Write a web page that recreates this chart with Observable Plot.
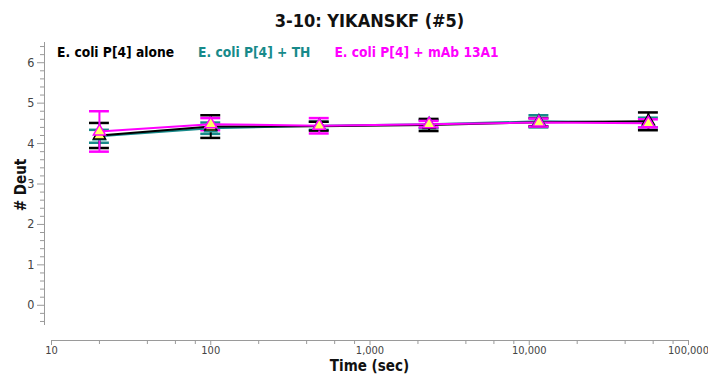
<!DOCTYPE html>
<html>
<head>
<meta charset="utf-8">
<script src="https://cdn.jsdelivr.net/npm/d3@7"></script>
<script src="https://cdn.jsdelivr.net/npm/@observablehq/plot@0.6"></script>
<style>
  html, body { margin: 0; padding: 0; background: #fff; }
  body { font-family: "DejaVu Sans Condensed", "DejaVu Sans", sans-serif; }
  #chart { position: relative; width: 708px; height: 375px; overflow: hidden; }
  #chart svg { position: absolute; left: 0; top: 0; overflow: visible; }
  .title { position: absolute; left: 51px; width: 637px; top: 10px; text-align: center;
           font-weight: bold; font-size: 18px; color: #111; }
  .legend { position: absolute; left: 57px; top: 44px; display: flex; gap: 24px;
            font-weight: bold; font-size: 13.7px; }
  .xlabel { position: absolute; left: 51px; width: 637px; top: 358px; line-height: 17px; text-align: center;
            font-weight: bold; font-size: 15px; color: #111; }
  .ylabel { position: absolute; left: 21px; top: 185px; transform: translate(-50%, -50%) rotate(-90deg);
            font-weight: bold; font-size: 15px; color: #111; white-space: nowrap; }
</style>
</head>
<body>
<div id="chart"></div>
<script>
// Exchange times (seconds)
const times = [20, 100, 480, 2350, 11500, 56000];

// Deuterium uptake (mean and error) for each condition
const aloneMean = [4.20, 4.42, 4.43, 4.46, 4.53, 4.55];
const aloneErr  = [0.31, 0.28, 0.11, 0.15, 0.10, 0.22];
const thMean    = [4.18, 4.38, 4.44, 4.48, 4.55, 4.52];
const thErr     = [0.16, 0.14, 0.10, 0.10, 0.15, 0.12];
const mabMean   = [4.30, 4.48, 4.44, 4.48, 4.52, 4.50];
const mabErr    = [0.50, 0.15, 0.19, 0.08, 0.10, 0.10];

const seriesNames  = ["E. coli P[4] alone", "E. coli P[4] + TH", "E. coli P[4] + mAb 13A1"];
const seriesColors = ["#000000", "#178a8a", "#ff00ff"];

// Axis ticks
const xMajor = [10, 100, 1000, 10000, 100000];
const xMinor = [20, 40, 60, 80, 200, 400, 600, 800, 2000, 4000, 6000, 8000, 20000, 40000, 60000, 80000];
const yMajor = [0, 1, 2, 3, 4, 5, 6];
const yMinor = d3.range(-0.4, 6.5, 0.2).map(v => +v.toFixed(1)).filter(v => !yMajor.includes(v));

const means = [aloneMean, thMean, mabMean];
const errs = [aloneErr, thErr, mabErr];
const rows = [];
seriesNames.forEach((name, s) => {
  times.forEach((t, i) => rows.push({series: name, color: seriesColors[s], t, v: means[s][i], e: errs[s][i]}));
});
// draw teal first, then black, then magenta on top
const order = [seriesNames[1], seriesNames[0], seriesNames[2]];
const bySeries = order.map(n => rows.filter(r => r.series === n));

const capF = 1.155; // half-width of the error-bar caps on the log axis
const axisGray = "#9a9a9a";
const labelGray = "#444";
const shift = 15; // x axis sits below the y range
const yOff = -7;  // y axis sits left of the x origin

const marks = [
  // y axis line
  Plot.ruleX([10], {y1: -0.5, y2: 6.5, dx: yOff, stroke: axisGray}),
  Plot.axisY({ticks: yMinor, tickSize: 4, tickFormat: () => "", dx: yOff, stroke: axisGray, label: null}),
  Plot.axisY({ticks: yMajor, tickSize: 7, tickPadding: 3, tickFormat: d3.format("d"), dx: yOff, stroke: axisGray, color: labelGray, fontSize: 12.5, label: null}),
  // x axis line and ticks
  Plot.ruleY([-0.5], {dy: shift, stroke: axisGray}),
  Plot.axisX({ticks: xMinor, tickSize: 4, tickFormat: () => "", dy: shift, stroke: axisGray, label: null}),
  Plot.axisX({ticks: xMajor, tickSize: 5, tickPadding: 1, tickFormat: d3.format(","), dy: shift, stroke: axisGray, color: labelGray, fontSize: 11, label: null})
];

for (const data of bySeries) {
  marks.push(
    Plot.ruleX(data, {x: "t", y1: d => d.v - d.e, y2: d => d.v + d.e, stroke: "color", strokeWidth: 2}),
    Plot.ruleY(data, {y: d => d.v + d.e, x1: d => d.t / capF, x2: d => d.t * capF, stroke: "color", strokeWidth: 2.5}),
    Plot.ruleY(data, {y: d => d.v - d.e, x1: d => d.t / capF, x2: d => d.t * capF, stroke: "color", strokeWidth: 2.5})
  );
}
for (const data of bySeries) {
  marks.push(Plot.line(data, {x: "t", y: "v", stroke: "color", strokeWidth: 2}));
}
for (const data of bySeries) {
  marks.push(Plot.dot(data, {x: "t", y: "v", symbol: "triangle", r: 4.5, fill: "#ffff66", stroke: "color", strokeWidth: 1.5}));
}

const plot = Plot.plot({
  width: 708,
  height: 375,
  marginLeft: 51,
  marginRight: 20,
  marginTop: 42,
  marginBottom: 50,
  style: {fontFamily: "'DejaVu Sans Condensed', 'DejaVu Sans', sans-serif", background: "#fff"},
  x: {type: "log", domain: [10, 100000]},
  y: {domain: [-0.5, 6.5]},
  color: {type: "identity"},
  marks
});

const chart = document.getElementById("chart");
chart.appendChild(plot);

const title = document.createElement("div");
title.className = "title";
title.textContent = "3-10: YIKANSKF (#5)";
chart.appendChild(title);

const legend = document.createElement("div");
legend.className = "legend";
seriesNames.forEach((n, i) => {
  const s = document.createElement("span");
  s.textContent = n;
  s.style.color = seriesColors[i];
  legend.appendChild(s);
});
chart.appendChild(legend);

const xl = document.createElement("div");
xl.className = "xlabel";
xl.textContent = "Time (sec)";
chart.appendChild(xl);

const yl = document.createElement("div");
yl.className = "ylabel";
yl.textContent = "# Deut";
chart.appendChild(yl);
</script>
</body>
</html>
